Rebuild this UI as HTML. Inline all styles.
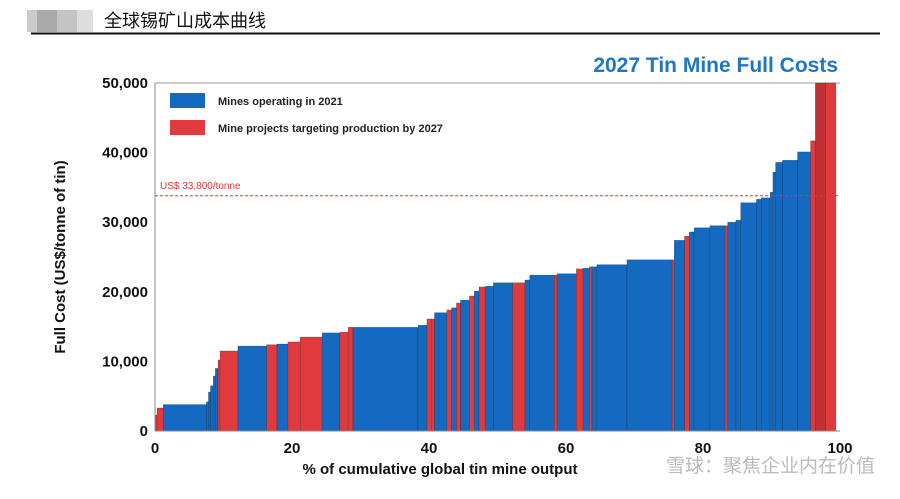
<!DOCTYPE html>
<html><head><meta charset="utf-8"><style>
body{margin:0;background:#fff;width:900px;height:494px;overflow:hidden;font-family:"Liberation Sans","Noto Sans CJK SC",sans-serif}
</style></head><body>
<svg width="900" height="494" xmlns="http://www.w3.org/2000/svg">
<g>
<rect x="27" y="10" width="10" height="22" fill="#ccc"/>
<rect x="37" y="10" width="20" height="22" fill="#aaa"/>
<rect x="57" y="10" width="20" height="22" fill="#c4c4c4"/>
<rect x="77" y="10" width="16" height="22" fill="#ddd"/>
<text x="104" y="27" font-size="18" fill="#111" font-family="Noto Sans CJK SC,sans-serif">全球锡矿山成本曲线</text>
<line x1="31" y1="33.5" x2="880" y2="33.5" stroke="#111" stroke-width="2"/>
</g>
<text x="838" y="72" text-anchor="end" font-size="21" font-weight="bold" fill="#1f77c4">2027 Tin Mine Full Costs</text>
<line x1="155" y1="83" x2="840" y2="83" stroke="#999"/>
<g id="bars"></g>
<g id="axes"></g>
<g>
<rect x="170" y="93" width="35" height="15" fill="#1469c0"/>
<text x="218" y="105" font-size="11" font-weight="bold" fill="#222">Mines operating in 2021</text>
<rect x="170" y="120" width="35" height="15" fill="#e03a3e"/>
<text x="218" y="132" font-size="11" font-weight="bold" fill="#222">Mine projects targeting production by 2027</text>
</g>
<text x="65" y="257" transform="rotate(-90 65 257)" text-anchor="middle" font-size="15" font-weight="bold" fill="#111">Full Cost (US$/tonne of tin)</text>
<text x="440" y="474" text-anchor="middle" font-size="15" font-weight="bold" fill="#111">% of cumulative global tin mine output</text>
<text x="875" y="472" text-anchor="end" font-size="19" fill="#bbb" font-family="Noto Sans CJK SC,sans-serif">雪球：聚焦企业内在价值</text>
</svg>
<script>
const widths=[0.3,0.9,6.3,0.3,0.3,0.4,0.3,0.4,0.3,2.6,4.2,1.5,1.6,1.8,3.2,2.6,1.2,0.7,9.5,1.3,0.7,0.4,1.8,0.7,0.7,0.6,1.3,0.7,0.7,0.9,1.2,2.8,1.8,0.7,3.6,0.4,2.8,1.0,0.9,0.4,0.7,4.4,6.6,0.3,1.5,0.7,0.7,2.3,2.2,0.4,1.2,0.7,2.3,0.7,1.3,0.4,0.4,1.0,2.2,1.9,0.7,1.5,1.5];
const costs=[2300,3300,3800,4200,5600,6500,7900,9000,10200,11500,12200,12400,12500,12800,13500,14100,14200,14900,14900,15200,16100,16100,17000,17400,17700,18400,18800,19400,20100,20700,20800,21300,21300,21700,22400,22400,22600,23300,23400,23600,23600,23900,24600,24600,27400,28000,28600,29200,29500,29500,30000,30300,32800,33300,33500,34300,37200,38600,38900,40100,41700,55000,55000];
const types="RRBBBBBBRRBRBRRBRRBBRRBRBRBRBRBBRBBRBRBRBBBRBRBBBRBBBBBBBBBBRDR";
const yTicks=[0,10000,20000,30000,40000,50000];
const yTickLabels=["0","10,000","20,000","30,000","40,000","50,000"];
const xTicks=[0,20,40,60,80,100];
const refCost=33800;
const refLabel="US$ 33,800/tonne";
const X=v=>155+v*6.85, Y=v=>431-Math.min(v,50000)*0.00696;
const NS="http://www.w3.org/2000/svg";
const bars=document.getElementById('bars'), axes=document.getElementById('axes');
let cum=0;
widths.forEach((w,i)=>{
 const r=document.createElementNS(NS,'rect');
 r.setAttribute('x',X(cum));r.setAttribute('width',X(cum+w)-X(cum));
 r.setAttribute('y',Y(costs[i]));r.setAttribute('height',Y(0)-Y(costs[i]));
 const t=types[i];
 r.setAttribute('fill',t==='B'?'#1469c0':t==='D'?'#c23035':'#e03a3e');
 r.setAttribute('stroke','rgba(0,0,0,0.35)');r.setAttribute('stroke-width','0.5');
 
 
 bars.appendChild(r);cum+=w;
});
function add(tag,attrs,txt){const e=document.createElementNS(NS,tag);for(const k in attrs)e.setAttribute(k,attrs[k]);if(txt!=null)e.textContent=txt;axes.appendChild(e);return e;}
let e=add('line',{x1:X(0),x2:X(100),y1:Y(refCost),y2:Y(refCost),stroke:'#d9363c','stroke-dasharray':'3,2','stroke-width':1});


e=add('text',{x:160,y:Y(refCost)-7,'font-size':10,fill:'#d9363c'},refLabel);


e=add('line',{x1:155,x2:155,y1:83,y2:431,stroke:'#888'});


e=add('line',{x1:155,x2:840,y1:431,y2:431,stroke:'#888'});


yTicks.forEach((v,i)=>{
 const t=add('text',{x:148,y:Y(v)+5,'text-anchor':'end','font-size':15,'font-weight':'bold',fill:'#111'},yTickLabels[i]);
 
 
});
xTicks.forEach(v=>{
 const t=add('text',{x:X(v),y:453,'text-anchor':'middle','font-size':15,'font-weight':'bold',fill:'#111'},String(v));
 
 
});
</script>
</body></html>
